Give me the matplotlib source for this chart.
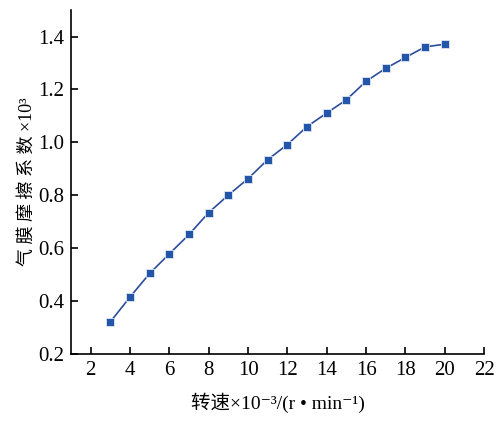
import matplotlib
matplotlib.use("Agg")
import matplotlib.pyplot as plt

# data
speed = [3, 4, 5, 6, 7, 8, 9, 10, 11, 12, 13, 14, 15, 16, 17, 18, 19, 20]
friction = [0.322, 0.416, 0.505, 0.579, 0.652, 0.735, 0.801, 0.863, 0.935, 0.992,
            1.060, 1.111, 1.161, 1.231, 1.280, 1.321, 1.361, 1.371]
xticks = [2, 4, 6, 8, 10, 12, 14, 16, 18, 20, 22]
yticks = [0.2, 0.4, 0.6, 0.8, 1.0, 1.2, 1.4]

plt.rcParams['font.family'] = ['Liberation Serif', 'Noto Sans CJK SC', 'DejaVu Serif']

fig = plt.figure(figsize=(4.97, 4.21), dpi=100)
ax = fig.add_axes([0.143, 0.159, 0.831, 0.817])

ax.plot(speed, friction, color='#2b4c9b', linewidth=1.2, marker='s', markersize=6,
        markerfacecolor='#2356a8', markeredgecolor='#dfe6f3', markeredgewidth=0.6)

ax.set_xlim(1, 22)
ax.set_ylim(0.2, 1.5)
ax.set_xticks(xticks)
ax.set_yticks(yticks)
ax.set_yticklabels([f"{v:.1f}" for v in yticks])

for s in ['top', 'right']:
    ax.spines[s].set_visible(False)
for s in ['left', 'bottom']:
    ax.spines[s].set_linewidth(1.2)

ax.tick_params(direction='in', length=5, width=1.2, labelsize=15, pad=5)

ax.set_xlabel('转速×10⁻³/(r • min⁻¹)', fontsize=14, labelpad=9)
ax.set_ylabel('气 膜 摩 擦 系 数 ×10³', fontsize=13, labelpad=2)

fig.savefig('out.png', dpi=100)
